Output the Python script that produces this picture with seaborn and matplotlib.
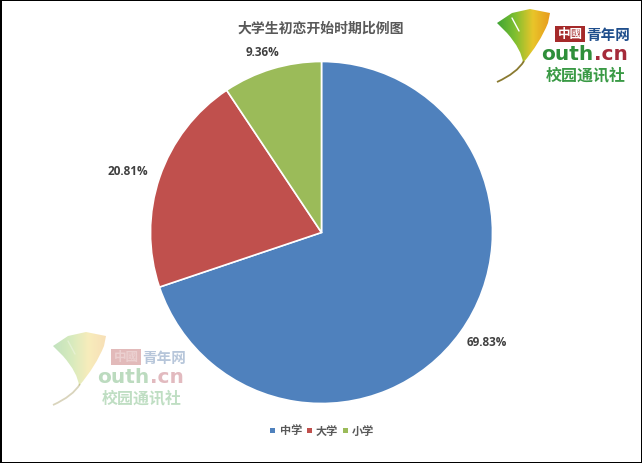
import matplotlib
matplotlib.use("Agg")
import matplotlib.pyplot as plt
from matplotlib.colors import LinearSegmentedColormap
from matplotlib.path import Path
from matplotlib.patches import PathPatch, Rectangle
import numpy as np
import seaborn as sns

categories = ["中学", "大学", "小学"]
shares = [69.83, 20.81, 9.36]
labels = ["69.83%", "20.81%", "9.36%"]
colors = ["#4f81bd", "#c0504d", "#9bbb59"]
title = "大学生初恋开始时期比例图"

sns.set_theme(style="white")
plt.rcParams['font.family'] = ['Noto Sans CJK SC', 'DejaVu Sans']

W, H = 642, 464
fig = plt.figure(figsize=(W / 100, H / 100), dpi=100, facecolor="white")
cx, cy, r = 321.5, 233.5, 171
ax = fig.add_axes([(cx - r) / W, 1 - (cy + r) / H, 2 * r / W, 2 * r / H])
wedges, _ = ax.pie(shares, colors=sns.color_palette(colors), startangle=90, counterclock=False,
                   radius=1, wedgeprops=dict(edgecolor="white", linewidth=1.2))
ax.set_xlim(-1, 1)
ax.set_ylim(-1, 1)

ov = fig.add_axes([0, 0, 1, 1], zorder=5)
ov.patch.set_alpha(0)

grey = "#404040"
num_font = ["Open Sans", "DejaVu Sans"]
ov.text(321, 29, title, ha="center", va="center", fontsize=10, fontweight="bold", color="#595959")
ov.text(487, 342.5, labels[0], ha="center", va="center", fontsize=8.5, fontweight="bold", color=grey, family=num_font)
ov.text(128, 172, labels[1], ha="center", va="center", fontsize=8.5, fontweight="bold", color=grey, family=num_font)
ov.text(262, 52, labels[2], ha="center", va="center", fontsize=8.5, fontweight="bold", color=grey, family=num_font)

# legend
lx = [272, 309, 345]
tx = [291, 327, 363]
for c, x0, x1, name in zip(colors, lx, tx, categories):
    ov.add_patch(Rectangle((x0 - 2.5, 428.5), 5, 5, color=c, lw=0))
    ov.text(x1, 431, name, ha="center", va="center", fontsize=8, fontweight="bold", color="#595959")

leaf_cmap = LinearSegmentedColormap.from_list("leaf", ["#3fa535", "#7fbf30", "#e8c52a", "#e89a1c"])


def logo(dx, dy, s, alpha):
    def P(x, y):
        return (dx + x * s, dy + y * s)
    verts = [(0, 12), (15, 2), (33, -2), (53, 2), (51, 12), (43, 32), (26, 52),
             (25, 39), (10, 22), (0, 12)]
    codes = [Path.MOVETO, Path.LINETO, Path.LINETO, Path.LINETO, Path.LINETO,
             Path.CURVE3, Path.CURVE3, Path.CURVE3, Path.CURVE3, Path.LINETO]
    leaf = PathPatch(Path([P(*p) for p in verts], codes), fc="none", ec="none", transform=ov.transData)
    ov.add_patch(leaf)
    im = ov.imshow(np.linspace(0, 1, 64).reshape(1, -1), cmap=leaf_cmap, aspect="auto", alpha=alpha,
                   extent=(dx, dx + 54 * s, dy + 53 * s, dy - 2 * s), zorder=2)
    im.set_clip_path(leaf)
    stem = PathPatch(Path([P(27, 50), P(20, 62), P(0, 71)], [Path.MOVETO, Path.CURVE3, Path.CURVE3]),
                     fc="none", ec="#8a7a30", lw=1.3, alpha=alpha, zorder=3)
    ov.add_patch(stem)
    ov.plot(*zip(P(15, 7), P(22, 20)), color="white", lw=1, alpha=alpha, zorder=3)
    ov.add_patch(Rectangle(P(58, 15), 30 * s, 16 * s, fc="#a52a2a", ec="none", alpha=alpha, zorder=3))
    ov.text(*P(73, 22.5), "中國", color="white", fontsize=9 * s, fontweight="bold",
            ha="center", va="center", alpha=alpha, zorder=4)
    ov.text(*P(111, 23), "青年网", color="#1f4e8c", fontsize=10.5 * s, fontweight="bold",
            ha="center", va="center", alpha=alpha, zorder=4)
    ov.text(*P(44, 43), "outh", color="#2f8f3a", fontsize=14.5 * s, fontweight="bold",
            family="DejaVu Sans", ha="left", va="center", alpha=alpha, zorder=4)
    ov.text(*P(97, 43), ".cn", color="#a52a3a", fontsize=14.5 * s, fontweight="bold",
            family="DejaVu Sans", ha="left", va="center", alpha=alpha, zorder=4)
    ov.text(*P(89, 63), "校园通讯社", color="#3a9a45", fontsize=11.5 * s, fontweight="bold",
            ha="center", va="center", alpha=alpha, zorder=4)


logo(497, 12, 1.0, 1.0)
logo(53, 335, 1.0, 0.32)

# frame of the screenshot
ov.add_patch(Rectangle((0, 0), W, 1.5, color="black", lw=0))
ov.add_patch(Rectangle((0, 0), 1.5, H, color="black", lw=0))
ov.add_patch(Rectangle((0, H - 1.5), W, 1.5, color="black", lw=0))
ov.add_patch(Rectangle((W - 1.5, 0), 1.5, H, color="black", lw=0))

ov.set_xlim(0, W)
ov.set_ylim(H, 0)
ov.axis("off")

fig.savefig("out.png", dpi=100)
